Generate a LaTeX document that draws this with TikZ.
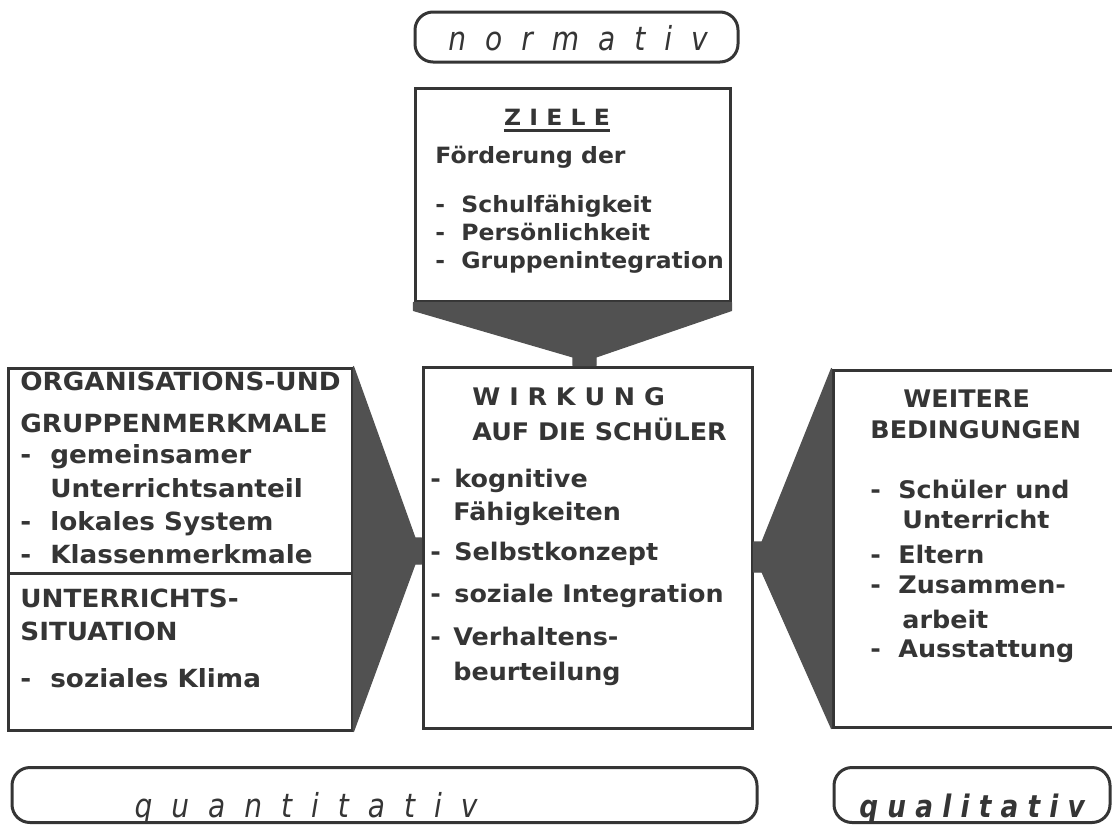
\documentclass[tikz,border=0pt]{standalone}
\usepackage{fontspec}
\newfontfamily\pf[FakeStretch=1.05]{DejaVu Sans}
\newfontfamily\itf[FakeStretch=0.85]{DejaVu Sans}
\newcommand\gp{\hspace{9.5pt}}
\newcommand\gq{\hspace{4.6pt}}
\newcommand\itm[1][13pt]{\makebox[#1][l]{-}}
\definecolor{ink}{HTML}{353535}
\definecolor{shade}{HTML}{515151}
\tikzset{
  box/.style={draw=ink, line width=1.5pt, inner sep=0pt},
  pill/.style={box, rounded corners=9pt},
  funnel/.style={fill=shade, draw=shade, line width=0.6pt, line join=round},
  txt/.style={anchor=base west, inner sep=0pt, text=ink, font=\pf\bfseries\fontsize{12.1}{14}\selectfont},
  big/.style={txt, font=\pf\bfseries\fontsize{12.5}{15}\selectfont},
  small/.style={txt, font=\pf\bfseries\fontsize{11.2}{13}\selectfont},
  slant/.style={anchor=base, inner sep=0pt, text=ink, font=\itf\itshape\fontsize{16.5}{18}\selectfont},
}
\begin{document}
\begin{tikzpicture}[x=0.5pt,y=-0.5pt]
\useasboundingbox[fill=white] (0,0) rectangle (1112,825);
% boxes
\node[pill, minimum width=161.5pt, minimum height=25pt] (norm) at (576.5,37) {};
\node[box, minimum width=157.5pt, minimum height=106.5pt] (ziele) at (572.5,194.5) {};
\node[box, minimum width=172pt, minimum height=102.5pt] (org) at (180,470.5) {};
\node[box, minimum width=172pt, minimum height=78.5pt] (unt) at (180,651.5) {};
\node[box, minimum width=164.5pt, minimum height=180.5pt] (wirk) at (587.5,547.5) {};
\node[box, minimum width=141.5pt, minimum height=178.5pt] (weit) at (974.5,548.5) {};
\node[pill, minimum width=372.5pt, minimum height=27.5pt] (quan) at (384.5,795) {};
\node[pill, minimum width=138pt, minimum height=27.5pt] (qual) at (972,795) {};
% funnels
\path[funnel] (ziele.south west) -- (ziele.south east) -- ([yshift=-4pt]ziele.south east)
  -- (596,357) -- (596,0 |- wirk.north) -- (573,0 |- wirk.north) -- (573,357)
  -- ([yshift=-4pt]ziele.south west) -- cycle;
\path[funnel] (org.north east) -- (415,538) -- (wirk.west |- 0,538) -- (wirk.west |- 0,564)
  -- (415,564) -- (unt.south east) -- cycle;
\path[funnel] (weit.north west) -- (762,542) -- (wirk.east |- 0,542) -- (wirk.east |- 0,572)
  -- (762,572) -- (weit.south west) -- cycle;
% pill labels
\node[slant] (tn) at (578,50) {n\gp o\gp r\gp m\gp a\gp t\gp i\gp v};
\node[slant] (tq) at (306,817) {q\gp u\gp a\gp n\gp t\gp i\gp t\gp a\gp t\gp i\gp v};
\node[slant, font=\itf\itshape\bfseries\fontsize{15.5}{17}\selectfont] (tl) at (972,817) {q\gq u\gq a\gq l\gq i\gq t\gq a\gq t\gq i\gq v};
% ZIELE
\node[small, anchor=base] (z0) at (557,125) {Z I E L E};
\draw[ink, line width=1.5pt] ([yshift=-2.5pt]z0.base west) -- ([yshift=-2.5pt]z0.base east);
\node[small] (z1) at (435,163) {Förderung der};
\node[small] (z2) at (435,212) {\itm Schulfähigkeit};
\node[small] (z3) at (435,240) {\itm Persönlichkeit};
\node[small] (z4) at (435,268) {\itm Gruppenintegration};
% left box
\node[big] (o1) at (20,390) {ORGANISATIONS-UND};
\node[big] (o2) at (20,432) {GRUPPENMERKMALE};
\node[big] (o3) at (20,463) {\itm[15pt]gemeinsamer};
\node[big] (o4) at (50,497) {Unterrichtsanteil};
\node[big] (o5) at (20,530) {\itm[15pt]lokales System};
\node[big] (o6) at (20,563) {\itm[15pt]Klassenmerkmale};
\node[big] (o7) at (20,607) {UNTERRICHTS-};
\node[big] (o8) at (20,640) {SITUATION};
\node[big] (o9) at (20,687) {\itm[15pt]soziales Klima};
% WIRKUNG
\node[txt] (w1) at (472,405) {W I R K U N G};
\node[txt] (w2) at (472,440) {AUF DIE SCHÜLER};
\node[txt] (w3) at (430,487) {\itm[12pt]kognitive};
\node[txt] (w4) at (453,520) {Fähigkeiten};
\node[txt] (w5) at (430,560) {\itm[12pt]Selbstkonzept};
\node[txt] (w6) at (430,602) {\itm[12pt]soziale Integration};
\node[txt] (w7) at (430,645) {\itm[11.5pt]Verhaltens-};
\node[txt] (w8) at (453,680) {beurteilung};
% right box
\node[txt] (r1) at (903,407) {WEITERE};
\node[txt] (r2) at (870,438) {BEDINGUNGEN};
\node[txt] (r3) at (870,498) {\itm[14pt]Schüler und};
\node[txt] (r4) at (902,528) {Unterricht};
\node[txt] (r5) at (870,563) {\itm[14pt]Eltern};
\node[txt] (r6) at (870,593) {\itm[14pt]Zusammen-};
\node[txt] (r7) at (902,628) {arbeit};
\node[txt] (r8) at (870,657) {\itm[14pt]Ausstattung};
\end{tikzpicture}
\end{document}
